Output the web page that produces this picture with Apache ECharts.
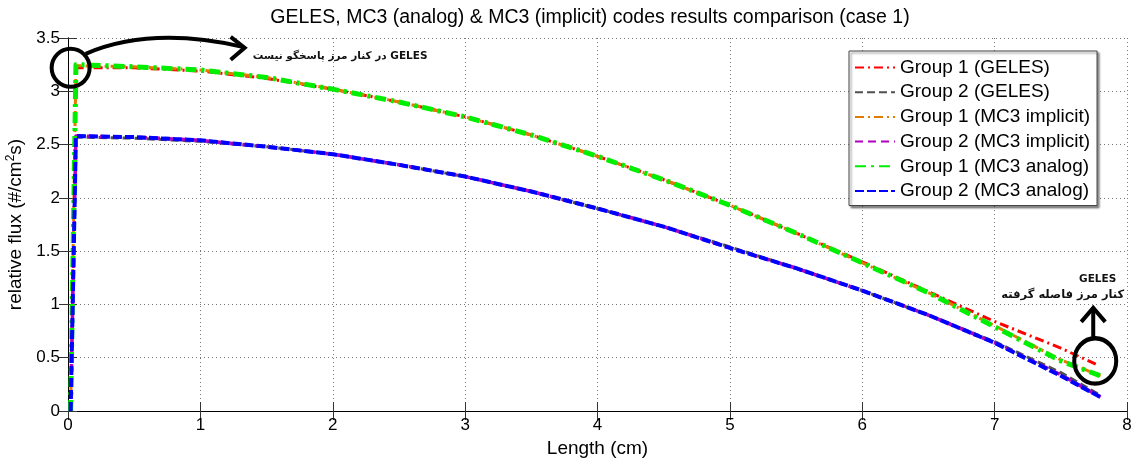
<!DOCTYPE html>
<html>
<head>
<meta charset="utf-8">
<script src="https://cdn.jsdelivr.net/npm/echarts@6/dist/echarts.min.js"></script>
<style>html,body{margin:0;padding:0;background:#fff}#c{width:1136px;height:461px}</style>
</head>
<body>
<div id="c"></div>
<script>
// ---- data ----
const xGeles = [0.05, 0.5, 1, 1.5, 2, 2.5, 3, 3.5, 4, 4.5, 5, 5.5, 6, 6.5, 7, 7.5, 7.78];
const xMC3   = [0.02, 0.06, 0.5, 1, 1.5, 2, 2.5, 3, 3.5, 4, 4.5, 5, 5.5, 6, 6.5, 7, 7.5, 7.8];
const g1Geles    = [3.22, 3.22, 3.19, 3.12, 3.02, 2.90, 2.76, 2.59, 2.39, 2.17, 1.93, 1.67, 1.40, 1.12, 0.84, 0.59, 0.43];
const g2Geles    = [2.57, 2.56, 2.53, 2.48, 2.41, 2.31, 2.20, 2.06, 1.90, 1.73, 1.54, 1.34, 1.13, 0.90, 0.65, 0.36, 0.16];
const g1Implicit = [0, 3.24, 3.23, 3.20, 3.13, 3.02, 2.90, 2.76, 2.59, 2.39, 2.17, 1.93, 1.67, 1.39, 1.11, 0.80, 0.48, 0.33];
const g2Implicit = [0, 2.58, 2.57, 2.54, 2.48, 2.41, 2.31, 2.20, 2.06, 1.90, 1.73, 1.53, 1.34, 1.13, 0.90, 0.64, 0.34, 0.13];
const g1Analog   = [0, 3.25, 3.23, 3.20, 3.13, 3.02, 2.90, 2.76, 2.59, 2.39, 2.17, 1.93, 1.67, 1.39, 1.11, 0.79, 0.47, 0.33];
const g2Analog   = [0, 2.58, 2.57, 2.54, 2.48, 2.41, 2.31, 2.20, 2.06, 1.90, 1.73, 1.53, 1.34, 1.13, 0.90, 0.64, 0.33, 0.13];
const seriesNames = ['Group 1 (GELES)', 'Group 2 (GELES)', 'Group 1 (MC3 implicit)', 'Group 2 (MC3 implicit)', 'Group 1 (MC3 analog)', 'Group 2 (MC3 analog)'];
const titleText = 'GELES, MC3 (analog) & MC3 (implicit) codes results comparison (case 1)';
const xName = 'Length (cm)';
const noteLeft = 'در کنار مرز پاسخگو نیست GELES';
const noteRight1 = 'GELES';
const noteRight2 = 'کنار مرز فاصله گرفته';

const pair = (xs, ys) => xs.map((x, i) => [x, ys[i]]);
const FONT = 'Liberation Sans, Arial, sans-serif';

const chart = echarts.init(document.getElementById('c'), null, {renderer: 'canvas'});

function mk(name, xs, ys, color, width, type) {
  return {
    name, type: 'line', data: pair(xs, ys), xAxisIndex: 0, yAxisIndex: 0,
    showSymbol: false, symbol: 'none', animation: false,
    lineStyle: {color, width, type, join: 'round'}, itemStyle: {color}
  };
}

const axisCommon = {
  axisLine: {show: true, lineStyle: {color: '#000', width: 1}},
  axisTick: {show: true, inside: true, length: 9, lineStyle: {color: '#333'}},
};

chart.setOption({
  animation: false,
  backgroundColor: '#fff',
  title: {
    text: titleText, left: 585, top: 3, textAlign: 'center',
    textStyle: {fontFamily: FONT, fontSize: 19.5, fontWeight: 'normal', color: '#000'}
  },
  grid: {left: 68, right: 9, top: 38, bottom: 50, outerBoundsMode: 'none', containLabel: false},
  legend: {
    orient: 'vertical', left: 849, top: 51,
    data: seriesNames,
    backgroundColor: '#fff', borderColor: '#444', borderWidth: 1,
    shadowColor: 'rgba(0,0,0,0.45)', shadowBlur: 2, shadowOffsetX: 2, shadowOffsetY: 2,
    padding: [7, 7, 5, 5], itemWidth: 40, itemHeight: 14, itemGap: 5.7,
    itemStyle: {opacity: 0},
    textStyle: {fontFamily: FONT, fontSize: 19, color: '#000'}
  },
  xAxis: [
    Object.assign({
      type: 'value', min: 0, max: 8, interval: 1, position: 'bottom',
      name: xName, nameLocation: 'middle', nameGap: 28,
      nameTextStyle: {fontFamily: FONT, fontSize: 19, color: '#000'},
      axisLabel: {fontFamily: FONT, fontSize: 17, color: '#000', margin: 6},
      splitLine: {show: true, lineStyle: {color: '#777', type: [1, 3], width: 1}}
    }, axisCommon),
    Object.assign({
      type: 'value', min: 0, max: 8, interval: 1, position: 'top',
      axisLabel: {show: false}, splitLine: {show: false}
    }, axisCommon)
  ],
  yAxis: [
    Object.assign({
      type: 'value', min: 0, max: 3.5, interval: 0.5, position: 'left',
      name: 'relative flux (#/cm{sup|2}s)', nameLocation: 'middle', nameGap: 38,
      nameTextStyle: {fontFamily: FONT, fontSize: 19, color: '#000',
        rich: {sup: {fontFamily: FONT, fontSize: 12, color: '#000', padding: [0, 0, 10, 0]}}},
      axisLabel: {fontFamily: FONT, fontSize: 17, color: '#000', margin: 8},
      splitLine: {show: true, lineStyle: {color: '#777', type: [1, 3], width: 1}}
    }, axisCommon),
    Object.assign({
      type: 'value', min: 0, max: 3.5, interval: 0.5, position: 'right',
      axisLabel: {show: false}, splitLine: {show: false}
    }, axisCommon)
  ],
  series: [
    mk(seriesNames[0], xGeles, g1Geles, '#ff0000', 3, [9, 4, 2, 4]),
    mk(seriesNames[1], xGeles, g2Geles, '#505050', 3, [8, 4]),
    mk(seriesNames[2], xMC3, g1Implicit, '#e07b00', 3, [9, 4, 2, 4]),
    mk(seriesNames[3], xMC3, g2Implicit, '#b000c0', 3.5, [8, 5]),
    mk(seriesNames[4], xMC3, g1Analog, '#00ee00', 5, [11, 5, 3, 5]),
    mk(seriesNames[5], xMC3, g2Analog, '#0000ff', 4, [9, 3])
  ]
});

// ---- annotations positioned from data coordinates ----
const pL = chart.convertToPixel({gridIndex: 0}, [0.02, 3.22]);
const pR = chart.convertToPixel({gridIndex: 0}, [7.76, 0.47]);
const annStyle = {stroke: '#000', lineWidth: 4, fill: null};
chart.setOption({
  graphic: [
    {type: 'circle', shape: {cx: pL[0], cy: pL[1], r: 19}, style: annStyle, z: 100},
    {type: 'bezierCurve', shape: {x1: pL[0] + 15, y1: pL[1] - 14, cpx1: pL[0] + 80, cpy1: pL[1] - 42, x2: pL[0] + 172, y2: pL[1] - 21},
      style: annStyle, z: 100},
    {type: 'polyline', shape: {points: [[pL[0] + 160, pL[1] - 31], [pL[0] + 174, pL[1] - 20], [pL[0] + 160, pL[1] - 8]]},
      style: {stroke: '#000', lineWidth: 4, fill: null, lineJoin: 'miter'}, z: 100},
    {type: 'text', x: pL[0] + 182, y: pL[1] - 12, z: 100,
      style: {text: noteLeft, fontFamily: 'DejaVu Sans', fontSize: 10.5, fontWeight: 'bold', fill: '#111',
        verticalAlign: 'middle', align: 'left'}},
    {type: 'circle', shape: {cx: pR[0], cy: pR[1], r: 21}, scaleY: 1.08, originX: pR[0], originY: pR[1], style: annStyle, z: 100},
    {type: 'line', shape: {x1: pR[0] - 2, y1: pR[1] - 23, x2: pR[0] - 2, y2: pR[1] - 53}, style: annStyle, z: 100},
    {type: 'polyline', shape: {points: [[pR[0] - 14, pR[1] - 39], [pR[0] - 2, pR[1] - 53], [pR[0] + 10, pR[1] - 39]]},
      style: {stroke: '#000', lineWidth: 4, fill: null}, z: 100},
    {type: 'text', x: pR[0] + 21, y: pR[1] - 82, z: 100,
      style: {text: noteRight1, fontFamily: 'DejaVu Sans', fontSize: 10.5, fontWeight: 'bold', fill: '#111',
        verticalAlign: 'middle', align: 'right'}},
    {type: 'text', x: pR[0] + 29, y: pR[1] - 66, z: 100,
      style: {text: noteRight2, fontFamily: 'DejaVu Sans', fontSize: 11.5, fontWeight: 'bold', fill: '#111',
        verticalAlign: 'middle', align: 'right'}}
  ]
});
</script>
</body>
</html>
